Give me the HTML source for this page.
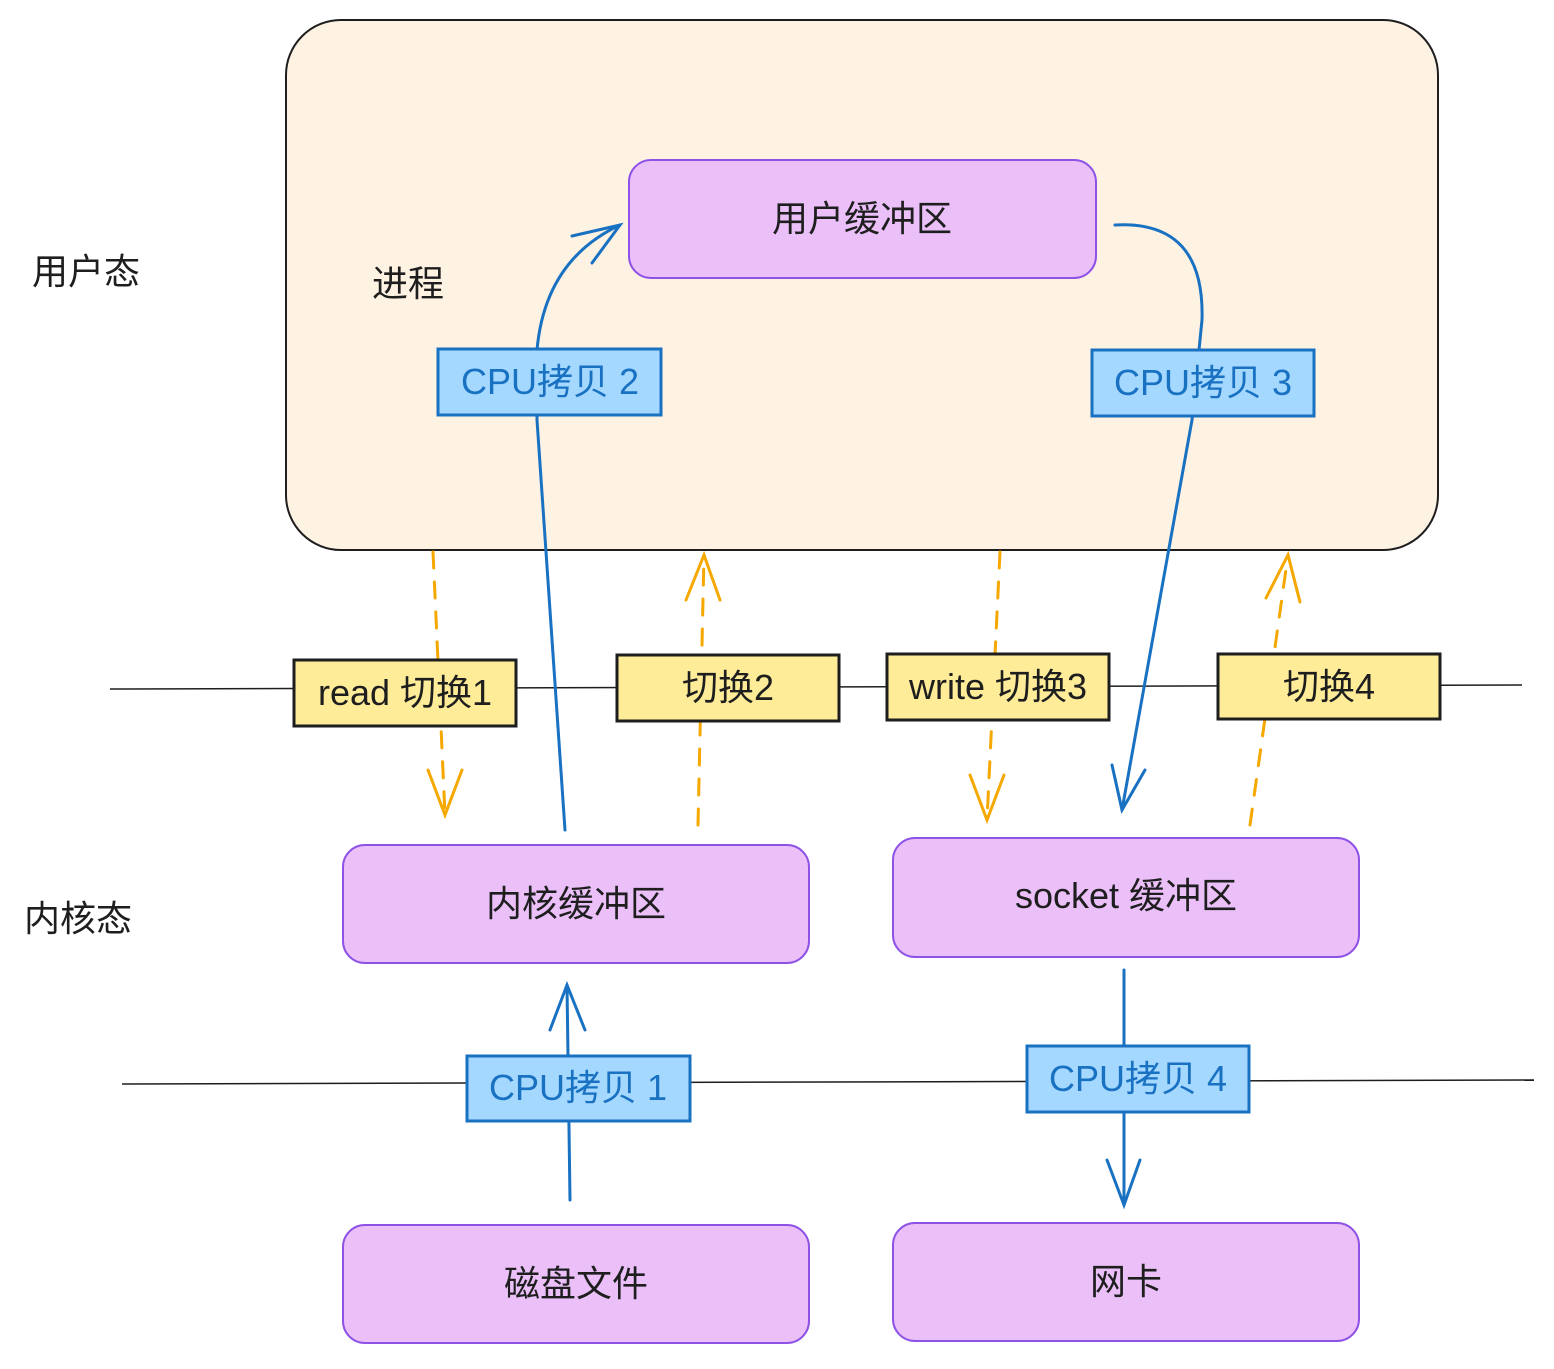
<!DOCTYPE html>
<html><head><meta charset="utf-8"><style>
body{margin:0;background:#fff}
text{font-family:"Liberation Sans","Noto Sans CJK SC",sans-serif}
</style></head><body>
<svg width="1554" height="1364" viewBox="0 0 1554 1364" xmlns="http://www.w3.org/2000/svg">
<defs>
<marker id="ab" markerWidth="10" markerHeight="10" refX="5" refY="5" orient="auto" markerUnits="userSpaceOnUse"></marker>
</defs>
<rect x="286" y="20" width="1152" height="530" rx="55" fill="#fef2e3" stroke="#1e1e1e" stroke-width="2"/>
<text x="32" y="284" font-size="36" fill="#1e1e1e">用户态</text>
<text x="372" y="296" font-size="36" fill="#1e1e1e">进程</text>
<text x="24" y="931" font-size="36" fill="#1e1e1e">内核态</text>

<line x1="110" y1="689" x2="1522" y2="685" stroke="#1e1e1e" stroke-width="1.5"/>
<line x1="122" y1="1084" x2="1534" y2="1080" stroke="#1e1e1e" stroke-width="1.5"/>

<g fill="#ebc0f9" stroke="#8e52e6" stroke-width="2">
<rect x="629" y="160" width="467" height="118" rx="22"/>
<rect x="343" y="845" width="466" height="118" rx="22"/>
<rect x="893" y="838" width="466" height="119" rx="22"/>
<rect x="343" y="1225" width="466" height="118" rx="22"/>
<rect x="893" y="1223" width="466" height="118" rx="22"/>
</g>
<g font-size="36" fill="#1e1e1e" text-anchor="middle">
<text x="862" y="231">用户缓冲区</text>
<text x="576" y="916">内核缓冲区</text>
<text x="1126" y="908">socket 缓冲区</text>
<text x="576" y="1296">磁盘文件</text>
<text x="1126" y="1294">网卡</text>
</g>

<!-- blue arrows -->
<g fill="none" stroke="#1971c2" stroke-width="3" stroke-linecap="round">
<path d="M565 830 L537 420 L537 350 Q545 260 620 225"/>
<path d="M572 236 L620 225 L592 263"/>
<path d="M1115 225 Q1205 220 1202 320 L1192 420 L1122 810"/>
<path d="M1112 765 L1122 810 L1145 770"/>
<path d="M570 1200 L567 985"/>
<path d="M550 1030 L567 985 L585 1030"/>
<path d="M1124 970 L1124 1205"/>
<path d="M1107 1160 L1124 1205 L1140 1160"/>
</g>

<!-- orange dashed -->
<g fill="none" stroke="#f5a800" stroke-width="3" stroke-dasharray="16 14" stroke-linecap="round">
<path d="M433 552 L445 815"/>
<path d="M698 825 L704 555"/>
<path d="M1000 552 L987 820"/>
<path d="M1250 825 L1288 555"/>
</g>
<g fill="none" stroke="#f5a800" stroke-width="3" stroke-linecap="round">
<path d="M428 770 L445 815 L462 770"/>
<path d="M686 600 L704 555 L720 600"/>
<path d="M970 775 L987 820 L1004 775"/>
<path d="M1266 598 L1288 555 L1300 602"/>
</g>

<!-- blue labels -->
<g fill="#a5d8ff" stroke="#1971c2" stroke-width="3">
<rect x="438" y="349" width="223" height="66"/>
<rect x="1092" y="350" width="222" height="66"/>
<rect x="467" y="1056" width="223" height="65"/>
<rect x="1027" y="1046" width="222" height="66"/>
</g>
<g font-size="36" fill="#1971c2" text-anchor="middle">
<text x="550" y="394">CPU拷贝 2</text>
<text x="1203" y="395">CPU拷贝 3</text>
<text x="578" y="1100">CPU拷贝 1</text>
<text x="1138" y="1091">CPU拷贝 4</text>
</g>

<!-- yellow -->
<g fill="#ffec99" stroke="#1e1e1e" stroke-width="3">
<rect x="294" y="660" width="222" height="66"/>
<rect x="617" y="655" width="222" height="66"/>
<rect x="887" y="654" width="222" height="66"/>
<rect x="1218" y="654" width="222" height="65"/>
</g>
<g font-size="36" fill="#1e1e1e" text-anchor="middle">
<text x="405" y="705">read 切换1</text>
<text x="728" y="700">切换2</text>
<text x="998" y="699">write 切换3</text>
<text x="1329" y="699">切换4</text>
</g>
</svg>
</body></html>
